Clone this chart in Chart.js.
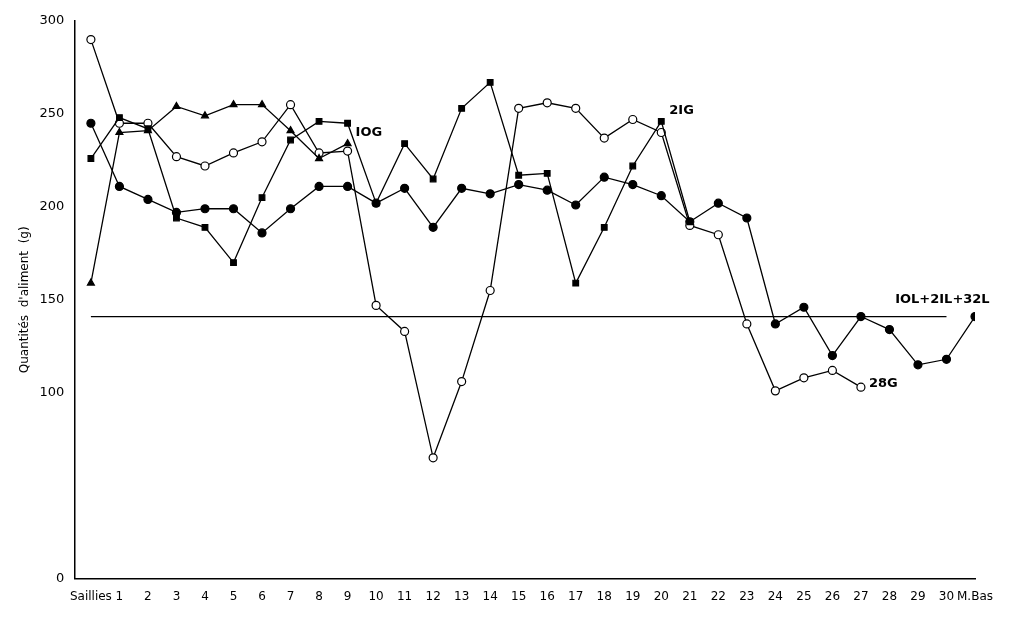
<!DOCTYPE html>
<html><head><meta charset="utf-8">
<script src="https://cdn.jsdelivr.net/npm/chart.js@4"></script>
<style>html,body{margin:0;background:#fff}#w{width:1011px;height:619px}</style>
</head><body><div id="w"><canvas id="c"></canvas></div>
<script>
const categories=["Saillies","1","2","3","4","5","6","7","8","9","10","11","12","13","14","15","16","17","18","19","20","21","22","23","24","25","26","27","28","29","30","M.Bas"];
const seriesL=[245,211,204,197,199,199,186,199,211,211,202,210,189,210,207,212,209,201,216,212,206,192,202,194,137,146,120,141,134,115,118,141];
const series28G=[290,245,245,227,222,229,235,255,229,230,147,133,65,106,155,253,256,253,237,247,240,190,185,137,101,108,112,103];
const series21G=[226,248,242,194,189,170,205,236,246,245,202,234,215,253,267,217,218,159,189,222,246,192];
const series10G=[159,240,241,254,249,255,255,241,226,234];
const refLevel=141;
const yTicks=[0,100,150,200,250,300];
const pts=a=>a.map((v,i)=>({x:i,y:v}));
const ds=(d,style,fill)=>({data:pts(d),showLine:true,borderColor:'#000',borderWidth:1.3,pointStyle:style,pointRadius:4,
 pointBackgroundColor:fill?'#000':'#fff',pointBorderColor:'#000',pointBorderWidth:1.2,tension:0});
const labelsPlugin={id:'lbl',afterDatasetsDraw(ch){const c=ch.ctx,x=ch.scales.x,y=ch.scales.y;c.save();c.fillStyle='#000';
 c.font='bold 13px "DejaVu Sans"';c.textBaseline='middle';
 c.fillText('IOG',x.getPixelForValue(9)+8,y.getPixelForValue(240));
 c.fillText('2IG',x.getPixelForValue(20)+8,y.getPixelForValue(252));
 c.fillText('28G',x.getPixelForValue(27)+8,y.getPixelForValue(105));
 c.fillText('IOL+2IL+32L',x.getPixelForValue(28.2),y.getPixelForValue(150));
 c.restore();}};
new Chart(document.getElementById('c'),{type:'scatter',
 data:{datasets:[
  {data:[{x:0,y:refLevel},{x:30,y:refLevel}],showLine:true,borderColor:'#000',borderWidth:1.3,pointRadius:0},
  ds(series10G,'triangle',true),
  ds(series21G,'rect',true),
  ds(series28G,'circle',false),
  ds(seriesL,'circle',true)
 ]},
 options:{responsive:true,maintainAspectRatio:false,animation:false,
  layout:{padding:{left:14,right:36,top:21,bottom:12}},
  plugins:{legend:{display:false},tooltip:{enabled:false}},
  scales:{
   x:{type:'linear',min:-0.55,max:31,grid:{display:false,drawTicks:true},border:{color:'#000',width:1.5},
      afterBuildTicks:s=>{s.ticks=categories.map((_,i)=>({value:i}));},
      ticks:{color:'#000',font:{family:'DejaVu Sans',size:12},callback:v=>categories[v]??'',autoSkip:false,maxRotation:0}},
   y:{min:0,max:300,grid:{display:false},border:{color:'#000',width:1.5},
      afterBuildTicks:s=>{s.ticks=yTicks.map(v=>({value:v}));},
      ticks:{color:'#000',font:{family:'DejaVu Sans',size:13}},
      title:{display:true,text:"Quantités  d'aliment  (g)",color:'#000',font:{family:'DejaVu Sans',size:12}}}
  }},
 plugins:[labelsPlugin]});
</script></body></html>
